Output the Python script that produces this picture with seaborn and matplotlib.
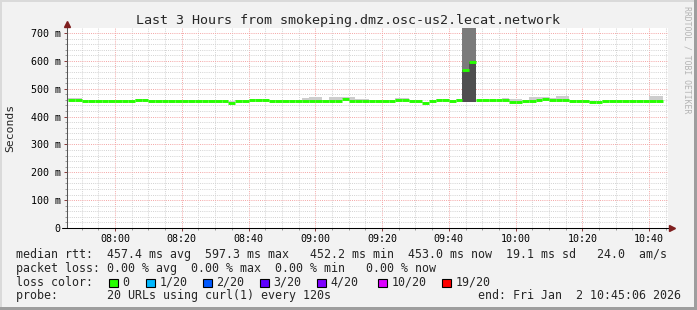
import numpy as np
import pandas as pd
import matplotlib
matplotlib.use("Agg")
import matplotlib.pyplot as plt
import matplotlib.dates as mdates
from matplotlib.patches import Rectangle
import seaborn as sns

# ---------------- data ----------------
first_step = "2026-01-02 07:46:00"
step_seconds = 120
view_start = "2026-01-02 07:45:38"
view_end = "2026-01-02 10:45:38"

median_rtt = [461, 461,
              455, 455, 455, 455, 455, 455, 455, 455,
              459, 459,
              455, 455, 455, 455, 455, 455, 455, 455, 455, 455, 455, 455,
              449,
              455, 455,
              461, 461, 461,
              455, 455, 455, 455, 455, 456, 456, 456, 455, 455, 456,
              462,
              455, 455, 455, 455, 455, 455, 455,
              459, 459,
              455, 455,
              450,
              455,
              459, 459,
              455,
              459,
              567, 597,
              458, 458, 458, 458, 458,
              452, 452,
              456, 456,
              461, 464, 460,
              459, 459,
              456, 456, 456,
              452, 452,
              455, 455, 455, 455, 455, 455, 455, 455, 455]

smoke_top = [466, 466,
             458, 458, 458, 458, 458, 458, 458, 458,
             463, 463,
             458, 458, 458, 458, 458, 458, 458, 458, 458,
             459, 459, 459,
             455,
             459, 459,
             464, 464, 464,
             458, 458, 458, 458, 458,
             468, 469, 469,
             460,
             471, 471, 472, 472,
             465, 465,
             458, 458, 458, 458,
             466, 466,
             458, 458,
             454,
             458,
             462, 462,
             458,
             462,
             900, 900,
             461, 461, 461, 461,
             466, 464, 464,
             459,
             470, 470, 470,
             466,
             474, 474,
             459, 459, 459,
             455, 455,
             458, 458, 458, 458, 458, 458, 458,
             473, 473]

spike_steps = [59, 60]
spike_low = [453, 453]
spike_high = [900, 900]

y_ticks = [0, 100, 200, 300, 400, 500, 600, 700]
y_tick_labels = ["0", "100 m", "200 m", "300 m", "400 m", "500 m", "600 m", "700 m"]

loss_labels = ["0", "1/20", "2/20", "3/20", "4/20", "10/20", "19/20"]
loss_colors = ["#26ff00", "#00b8ff", "#0059ff", "#5e00ff", "#7e00ff", "#dd00ff", "#ff0000"]

title = "Last 3 Hours from smokeping.dmz.osc-us2.lecat.network"
legend_rtt = "median rtt:  457.4 ms avg  597.3 ms max   452.2 ms min  453.0 ms now  19.1 ms sd   24.0  am/s"
legend_loss = "packet loss: 0.00 % avg  0.00 % max  0.00 % min   0.00 % now"
legend_probe = "probe:       20 URLs using curl(1) every 120s"
legend_end = "end: Fri Jan  2 10:45:06 2026"

# ---------------- style ----------------
sns.set_style("white")
plt.rcParams["font.family"] = ["DejaVu Sans Mono"]

W, H = 697, 310
fig = plt.figure(figsize=(W / 100, H / 100), dpi=100, facecolor="#f2f2f2")


def fx(px):
    return px / W


def fy(py):
    return 1 - py / H


ax_left, ax_right, ax_top, ax_bottom = 67, 668, 27.5, 228
ax = fig.add_axes([fx(ax_left), fy(ax_bottom), (ax_right - ax_left) / W,
                   (ax_bottom - ax_top) / H])
ax.set_facecolor("white")

n = len(median_rtt)
starts = pd.date_range(first_step, periods=n, freq=f"{step_seconds}s")
x0 = mdates.date2num(starts.to_pydatetime())
step_days = step_seconds / 86400.0
med = np.array(median_rtt, dtype=float)
top = np.array(smoke_top, dtype=float)

# smoke (light envelope above median)
ax.bar(x0, top - med, bottom=med, width=step_days, align="edge",
       color="#cdcdcd", linewidth=0, zorder=2)

# spike smoke
sx = x0[spike_steps]
s_lo = np.array(spike_low, dtype=float)
s_hi = np.array(spike_high, dtype=float)
ax.bar(sx, s_hi - s_lo, bottom=s_lo, width=step_days, align="edge",
       color="#7b7b7b", linewidth=0, zorder=3)
ax.bar(sx, med[spike_steps] - s_lo, bottom=s_lo, width=step_days, align="edge",
       color="#4f4f4f", linewidth=0, zorder=3)

# median line: one flat segment per step, coloured by loss (0 loss -> green)
seg = pd.DataFrame({
    "t": np.concatenate([x0, x0 + step_days]),
    "rtt": np.concatenate([med, med]),
    "step": np.concatenate([np.arange(n), np.arange(n)]),
})
sns.lineplot(data=seg, x="t", y="rtt", units="step", estimator=None,
             color=loss_colors[0], linewidth=2.1, solid_capstyle="butt",
             ax=ax, zorder=5, legend=False)

# axes ranges / ticks
ax.set_xlim(mdates.date2num(pd.Timestamp(view_start).to_pydatetime()),
            mdates.date2num(pd.Timestamp(view_end).to_pydatetime()))
ax.set_ylim(0, 720)
ax.set_xlabel("")
ax.set_ylabel("")
ax.xaxis.set_major_locator(mdates.MinuteLocator(byminute=[0, 20, 40]))
ax.xaxis.set_minor_locator(mdates.MinuteLocator(byminute=range(0, 60, 5)))
ax.xaxis.set_major_formatter(mdates.DateFormatter("%H:%M"))
ax.set_yticks(y_ticks)
ax.set_yticklabels(y_tick_labels)
ax.set_yticks(np.arange(0, 720, 20), minor=True)

ax.tick_params(which="major", direction="out", length=2.2, width=0.7,
               color="#8a3a3a", labelsize=7.2, pad=2.4, labelcolor="black")
ax.tick_params(which="minor", direction="out", length=1.2, width=0.7,
               color="#9a9a9a")
ax.tick_params(axis="y", which="both", left=True)
ax.tick_params(axis="x", which="both", bottom=True)

ax.set_axisbelow(True)
ax.grid(which="minor", color="#d2d2d2", linestyle=(0, (1, 1.2)), linewidth=0.7)
ax.grid(which="major", color="#f4a4a4", linestyle=(0, (1, 1.2)), linewidth=0.7)

for s in ax.spines.values():
    s.set_visible(False)

# axis lines with arrows
ax.plot([0, 0], [0, 1.012], transform=ax.transAxes, color="#555555",
        lw=0.75, clip_on=False, zorder=6)
ax.plot([-0.008, 1.004], [0, 0], transform=ax.transAxes, color="black",
        lw=0.75, clip_on=False, zorder=6)
ax.plot([0], [1.019], marker="^", markersize=4.2, color="#7f1f1f",
        transform=ax.transAxes, clip_on=False, zorder=7)
ax.plot([1.006], [0], marker=">", markersize=4.2, color="#7f1f1f",
        transform=ax.transAxes, clip_on=False, zorder=7)

# ---------------- texts ----------------
fig.text(fx(348.5), fy(24.3), title, ha="center", va="baseline", fontsize=9.6)
fig.text(fx(10.5), fy(128), "Seconds", rotation=90, ha="center", va="center",
         fontsize=8.2)
fig.text(fx(687.5), fy(60), "RRDTOOL / TOBI OETIKER", rotation=270,
         ha="center", va="center", fontsize=5.9, color="#b4b4b4")

lx = 15.5
fig.text(fx(lx), fy(258), legend_rtt, ha="left", va="baseline", fontsize=8.4)
fig.text(fx(lx), fy(271.8), legend_loss, ha="left", va="baseline", fontsize=8.4)
fig.text(fx(lx), fy(285.6), "loss color:", ha="left", va="baseline", fontsize=8.4)
fig.text(fx(lx), fy(299.4), legend_probe, ha="left", va="baseline", fontsize=8.4)
fig.text(fx(477.5), fy(299.4), legend_end, ha="left", va="baseline", fontsize=8.4)

box_x = [108.7, 145.7, 202.7, 260.0, 317.3, 378.3, 441.7]
for bx, lab, col in zip(box_x, loss_labels, loss_colors):
    fig.add_artist(Rectangle((fx(bx), fy(286.7)), 9 / W, 8 / H,
                             transform=fig.transFigure, facecolor=col,
                             edgecolor="black", linewidth=0.8))
    fig.text(fx(bx + 13.6), fy(285.6), lab, ha="left", va="baseline",
             fontsize=8.4)

# frame (shade)
fig.add_artist(Rectangle((0, 1 - 2 / H), 1, 2 / H, transform=fig.transFigure,
                         facecolor="#dadada", edgecolor="none"))
fig.add_artist(Rectangle((0, 0), 2 / W, 1, transform=fig.transFigure,
                         facecolor="#dadada", edgecolor="none"))
fig.add_artist(Rectangle((0, 0), 1, 3 / H, transform=fig.transFigure,
                         facecolor="#9e9e9e", edgecolor="none"))
fig.add_artist(Rectangle((1 - 3 / W, 0), 3 / W, 1, transform=fig.transFigure,
                         facecolor="#9e9e9e", edgecolor="none"))

fig.savefig("out.png", dpi=100, facecolor=fig.get_facecolor())
